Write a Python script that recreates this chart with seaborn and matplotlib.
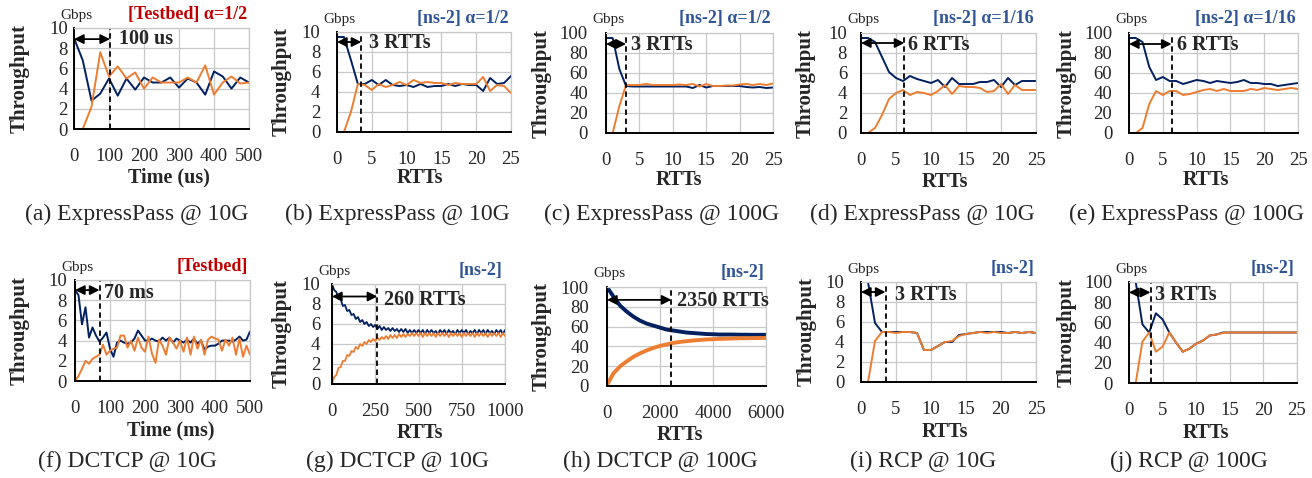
import numpy as np
import pandas as pd
import matplotlib
matplotlib.use("Agg")
import matplotlib.pyplot as plt
import seaborn as sns

# ---------------- data ----------------
# (a) ExpressPass testbed 10G, time in us
a_time = [0, 25, 50, 75, 100, 125, 150, 175, 200, 225, 250, 275, 300, 325, 350, 375, 400, 425, 450, 475, 500]
a_flow1 = [9.0, 6.8, 2.8, 3.5, 5.0, 3.3, 5.0, 3.9, 5.1, 4.6, 4.6, 5.1, 4.1, 5.0, 4.6, 3.4, 5.7, 5.2, 4.0, 5.1, 4.6]
a_flow2 = [0.0, 0.0, 2.2, 7.6, 5.2, 6.2, 5.0, 5.6, 4.0, 5.1, 4.6, 4.6, 4.6, 5.1, 4.6, 6.3, 3.4, 4.6, 5.2, 4.5, 4.6]

rtts = list(range(26))
# (b) ExpressPass ns-2 10G alpha=1/2
b_flow1 = [9.5, 9.5, 7.2, 4.8, 4.8, 5.2, 4.7, 5.2, 4.7, 4.6, 4.7, 4.5, 4.8, 4.5, 4.6, 4.6, 4.8, 4.6, 4.8, 4.7, 4.7, 4.1, 5.4, 4.8, 4.9, 5.6]
b_flow2 = [0.0, 0.0, 2.0, 4.8, 4.7, 4.2, 4.8, 4.5, 4.7, 5.0, 4.7, 5.2, 4.9, 5.0, 4.9, 4.9, 4.7, 4.9, 4.8, 4.8, 4.8, 5.5, 4.1, 4.7, 4.6, 3.9]
# (c) ExpressPass ns-2 100G alpha=1/2
c_flow1 = [95, 95, 64, 47, 46.5, 46.5, 46.5, 46.5, 46.5, 46.5, 46.5, 46.5, 46.5, 45, 48, 45.5, 47, 47, 47, 47, 47, 46, 45.5, 46, 45, 45.5]
c_flow2 = [0, 0, 27, 48, 48, 48, 49, 48, 48, 48, 48, 48.5, 48, 49, 46.5, 49, 47, 47, 47.5, 47.5, 48.5, 49, 48, 49, 48, 49.5]
# (d) ExpressPass ns-2 10G alpha=1/16
d_flow1 = [9.5, 9.5, 9.1, 7.6, 6.1, 5.5, 5.2, 5.7, 5.4, 5.2, 5.0, 5.3, 4.6, 5.5, 4.9, 4.9, 4.9, 5.1, 5.1, 5.3, 4.6, 5.5, 4.8, 5.2, 5.2, 5.2]
d_flow2 = [0.0, 0.0, 0.5, 1.8, 3.4, 4.0, 4.3, 3.8, 4.1, 4.0, 3.8, 4.2, 4.8, 3.9, 4.7, 4.6, 4.6, 4.5, 4.1, 4.2, 4.9, 3.9, 4.8, 4.3, 4.3, 4.3]
# (e) ExpressPass ns-2 100G alpha=1/16
e_flow1 = [95, 95, 91, 66, 53, 56, 52, 52, 49, 51, 53, 52, 50, 52, 51, 50, 51, 53, 50, 50, 49, 49, 47, 48, 49, 50]
e_flow2 = [0, 0, 5, 29, 42, 38, 42, 42, 38, 39, 41, 43, 44, 42, 44, 42, 42, 42, 44, 43, 45, 44, 43, 44, 45, 44]

# (f) DCTCP testbed 10G, time in ms
f_time = list(range(0, 501, 10))
f_flow1 = [9.0, 8.5, 5.6, 7.3, 4.3, 5.3, 4.5, 3.9, 4.3, 4.8, 3.2, 2.4, 3.8, 4.0, 3.8, 3.7, 3.8, 4.2, 5.0, 4.5,
           4.0, 4.0, 4.2, 4.0, 3.9, 4.3, 4.0, 4.3, 3.8, 4.2, 4.0, 3.8, 4.1, 3.8, 4.2, 3.7, 4.0, 3.1, 3.4, 3.5,
           3.5, 3.7, 4.0, 4.0, 4.0, 3.9, 4.1, 4.4, 4.0, 4.1, 4.9]
f_flow2 = [0.0, 0.5, 1.2, 2.0, 1.7, 2.2, 2.4, 2.6, 3.6, 2.6, 3.0, 3.2, 3.3, 4.5, 4.5, 3.3, 4.0, 3.0, 4.3, 3.3,
           2.9, 4.4, 2.7, 1.8, 4.1, 3.5, 2.6, 4.3, 3.8, 3.2, 4.0, 2.9, 4.3, 2.6, 4.4, 3.2, 4.1, 2.6, 4.1, 4.4,
           4.2, 4.1, 3.0, 4.1, 3.5, 4.3, 2.6, 4.2, 2.4, 3.5, 2.6]

# (g) DCTCP ns-2 10G, RTTs
g_rtt = list(np.arange(0, 1000.1, 12.5))
g_flow1 = [10.0, 9.4, 9.2, 8.5, 8.5, 7.8, 7.9, 7.3, 7.4, 6.9,
           7.0, 6.5, 6.7, 6.2, 6.4, 6.0, 6.2, 5.8, 6.0, 5.7,
           5.9, 5.5, 5.8, 5.4, 5.7, 5.4, 5.6, 5.3, 5.6, 5.3,
           5.5, 5.2, 5.5, 5.2, 5.5, 5.1, 5.4, 5.1, 5.4, 5.1,
           5.4, 5.1, 5.4, 5.0, 5.4, 5.1, 5.4, 5.1, 5.3, 5.0,
           5.4, 5.1, 5.4, 5.0, 5.4, 5.1, 5.3, 5.0, 5.4, 5.1,
           5.4, 5.1, 5.4, 5.0, 5.3, 5.1, 5.4, 5.0, 5.4, 5.1,
           5.4, 5.0, 5.4, 5.1, 5.3, 5.0, 5.4, 5.1, 5.4, 5.0,
           5.4]
g_flow2 = [0.0, 0.7, 0.9, 1.6, 1.7, 2.3, 2.3, 2.9, 2.8, 3.3,
           3.2, 3.7, 3.5, 4.0, 3.8, 4.2, 4.0, 4.4, 4.2, 4.5,
           4.3, 4.6, 4.4, 4.7, 4.5, 4.8, 4.5, 4.9, 4.6, 4.9,
           4.6, 5.0, 4.7, 5.0, 4.7, 5.0, 4.8, 5.1, 4.8, 5.1,
           4.8, 5.1, 4.7, 5.1, 4.8, 5.1, 4.8, 5.1, 4.7, 5.1,
           4.8, 5.1, 4.8, 5.1, 4.7, 5.1, 4.8, 5.1, 4.8, 5.1,
           4.7, 5.1, 4.8, 5.1, 4.8, 5.1, 4.7, 5.1, 4.8, 5.1,
           4.8, 5.1, 4.7, 5.1, 4.8, 5.1, 4.8, 5.1, 4.7, 5.1,
           4.8]

# (h) DCTCP ns-2 100G, RTTs
h_rtt = list(range(0, 6001, 250))
h_flow1 = [100, 90, 81, 75, 70, 66, 63, 61, 59, 57, 56, 55, 54, 53.5, 53, 52.5, 52.3, 52, 52, 52, 51.8, 51.8, 51.7, 51.7, 51.7]
h_flow2 = [1, 13, 20, 25, 29.5, 33, 36, 38.5, 40.5, 42, 43.5, 44.5, 45.3, 46, 46.5, 47, 47.3, 47.6, 47.8, 48, 48.2, 48.3, 48.4, 48.5, 48.5]

# (i) RCP ns-2 10G
i_flow1 = [10, 10, 5.9, 5.0, 5.0, 5.0, 5.0, 5.0, 4.9, 3.2, 3.2, 3.6, 4.0, 4.0, 4.7, 4.8, 4.9, 5.0, 5.0, 5.0, 5.0, 4.9, 5.0, 4.9, 5.0, 4.9]
i_flow2 = [0, 0, 4.1, 5.0, 5.0, 4.9, 5.0, 5.0, 4.9, 3.2, 3.2, 3.6, 4.0, 4.1, 4.6, 4.8, 4.9, 5.0, 4.9, 5.0, 4.9, 4.9, 5.0, 4.9, 5.0, 4.9]
# (j) RCP ns-2 100G
j_flow1 = [100, 100, 58, 50, 69, 63, 50, 40, 31, 34, 39, 42, 47, 48, 50, 50, 50, 50, 50, 50, 50, 50, 50, 50, 50, 50]
j_flow2 = [0, 0, 41, 50, 31, 36, 50, 40, 31, 34, 39, 42, 47, 48, 49.5, 50, 50, 50, 50, 50, 50, 50, 50, 50, 50, 50]

captions = ["(a) ExpressPass @ 10G", "(b) ExpressPass @ 10G", "(c) ExpressPass @ 100G",
            "(d) ExpressPass @ 10G", "(e) ExpressPass @ 100G", "(f) DCTCP @ 10G",
            "(g) DCTCP @ 10G", "(h) DCTCP @ 100G", "(i) RCP @ 10G", "(j) RCP @ 100G"]
tags = ["[Testbed] α=1/2", "[ns-2] α=1/2", "[ns-2] α=1/2", "[ns-2] α=1/16", "[ns-2] α=1/16",
        "[Testbed]", "[ns-2]", "[ns-2]", "[ns-2]", "[ns-2]"]
conv_labels = ["100 us", "3 RTTs", "3 RTTs", "6 RTTs", "6 RTTs",
               "70 ms", "260 RTTs", "2350 RTTs", "3 RTTs", "3 RTTs"]
x_labels = ["Time (us)", "RTTs", "RTTs", "RTTs", "RTTs", "Time (ms)", "RTTs", "RTTs", "RTTs", "RTTs"]

# ---------------- style ----------------
sns.set_style("white")
plt.rcParams['font.family'] = ['Liberation Serif', 'DejaVu Serif']

NAVY = '#002060'
ORANGE = '#ED7D31'
RED = '#C00000'
NSBLUE = '#2F5597'
GRID = '#C8C8C8'

W, H = 1312, 478
fig = plt.figure(figsize=(W / 100, H / 100), dpi=100)

# layout (pixels): axes box (l, t, r, b), ylabel centre x, xlabel centre (x, y), caption centre (x, y), y-tick pad
layout = [
    dict(box=(74, 28, 249, 129), yl=20, xl=(169, 177), cap=(137, 214), ypad=4.5),
    dict(box=(337, 32, 511, 132), yl=282, xl=(420, 178), cap=(397, 214), ypad=12),
    dict(box=(606, 33, 773, 133), yl=542, xl=(679, 180), cap=(662, 214), ypad=13),
    dict(box=(861, 33, 1036, 133), yl=806, xl=(945, 182), cap=(922, 214), ypad=10),
    dict(box=(1129, 33, 1298, 133), yl=1067, xl=(1206, 180), cap=(1187, 214), ypad=12),
    dict(box=(75, 280, 250, 381), yl=20, xl=(171, 430), cap=(127, 461), ypad=6),
    dict(box=(332, 284, 505, 384), yl=282, xl=(420, 433), cap=(397, 461), ypad=8.5),
    dict(box=(607, 287, 766, 386), yl=542, xl=(680, 435), cap=(660, 461), ypad=13),
    dict(box=(861, 282, 1036, 382), yl=807, xl=(945, 432), cap=(923, 461), ypad=12),
    dict(box=(1129, 282, 1297, 383), yl=1067, xl=(1206, 433), cap=(1189, 461), ypad=12),
]

series = [
    (a_time, a_flow1, a_flow2), (rtts, b_flow1, b_flow2), (rtts, c_flow1, c_flow2),
    (rtts, d_flow1, d_flow2), (rtts, e_flow1, e_flow2), (f_time, f_flow1, f_flow2),
    (g_rtt, g_flow1, g_flow2), (h_rtt, h_flow1, h_flow2), (rtts, i_flow1, i_flow2),
    (rtts, j_flow1, j_flow2),
]
xlims = [(0, 500), (0, 25), (0, 25), (0, 25), (0, 25), (0, 500), (0, 1000), (0, 6000), (0, 25), (0, 25)]
xticks = [list(range(0, 501, 100)), list(range(0, 26, 5)), list(range(0, 26, 5)), list(range(0, 26, 5)),
          list(range(0, 26, 5)), list(range(0, 501, 100)), [0, 250, 500, 750, 1000],
          [0, 2000, 4000, 6000], list(range(0, 26, 5)), list(range(0, 26, 5))]
ymaxes = [10, 10, 100, 10, 100, 10, 10, 100, 10, 100]
# convergence marker: dashed x, arrow y, text x, text y
markers = [(103, 8.9, 128, 8.9), (3.5, 9.0, 4.6, 8.9), (3.0, 89, 3.7, 88), (6.2, 9.0, 6.7, 8.8),
           (6.3, 89, 7.1, 88), (70, 9.0, 84, 8.7), (262, 8.75, 300, 8.4), (2430, 87, 2650, 86),
           (3.5, 9.0, 4.8, 8.7), (3.2, 89.7, 3.8, 87)]
lws = [1.4, 1.4, 1.4, 1.4, 1.4, 1.4, 1.3, 2.8, 1.4, 1.4]

for k in range(10):
    lay = layout[k]
    l, t, r, b = lay['box']
    ax = fig.add_axes([l / W, 1 - b / H, (r - l) / W, (b - t) / H])
    x, y1, y2 = series[k]
    df = pd.DataFrame({'x': x, 'f1': y1, 'f2': y2})
    sns.lineplot(data=df, x='x', y='f1', ax=ax, color=NAVY, linewidth=lws[k])
    sns.lineplot(data=df, x='x', y='f2', ax=ax, color=ORANGE, linewidth=lws[k])

    ax.set_xlim(*xlims[k])
    ax.set_ylim(0, ymaxes[k])
    ax.set_xticks(xticks[k])
    ax.set_yticks(np.linspace(0, ymaxes[k], 6))
    ax.set_yticklabels([str(int(v)) for v in np.linspace(0, ymaxes[k], 6)])
    ax.tick_params(axis='both', length=0, labelsize=13.5)
    ax.tick_params(axis='x', pad=13.5)
    ax.tick_params(axis='y', pad=lay['ypad'])
    ax.grid(True, color=GRID, linewidth=0.9)
    ax.set_axisbelow(True)
    for s in ['top', 'right']:
        ax.spines[s].set_color(GRID)
        ax.spines[s].set_linewidth(0.9)
    for s in ['left', 'bottom']:
        ax.spines[s].set_color('black')
        ax.spines[s].set_linewidth(1.4)

    dx, ay, tx, ty = markers[k]
    ax.axvline(dx, color='black', linestyle=(0, (3, 2)), linewidth=1.3)
    ax.annotate('', xy=(xlims[k][0], ay), xytext=(dx, ay),
                arrowprops=dict(arrowstyle='<|-|>', color='black', lw=1.3,
                                mutation_scale=14, shrinkA=0, shrinkB=0))
    ax.text(tx, ty, conv_labels[k], fontsize=14.5, fontweight='bold', ha='left', va='center')

    ax.set_xlabel(x_labels[k], fontsize=14.5, fontweight='bold')
    ax.xaxis.label.set_va('center')
    ax.xaxis.set_label_coords(lay['xl'][0] / W, 1 - lay['xl'][1] / H, transform=fig.transFigure)
    ax.set_ylabel('Throughput', fontsize=15, fontweight='bold')
    ax.yaxis.label.set_va('center')
    ax.yaxis.set_label_coords(lay['yl'] / W, 1 - ((t + b) / 2) / H, transform=fig.transFigure)

    ax.annotate('Gbps', xy=(0, 1), xycoords='axes fraction', xytext=(2, 13),
                textcoords='offset pixels', ha='center', va='center', fontsize=11)
    tag_color = RED if 'Testbed' in tags[k] else NSBLUE
    ax.annotate(tags[k], xy=(1, 1), xycoords='axes fraction', xytext=(-2, 14),
                textcoords='offset pixels', ha='right', va='center', fontsize=13,
                fontweight='bold', color=tag_color)

    fig.text(lay['cap'][0] / W, 1 - lay['cap'][1] / H, captions[k], ha='center', va='center', fontsize=17)

fig.savefig('out.png', dpi=100)
